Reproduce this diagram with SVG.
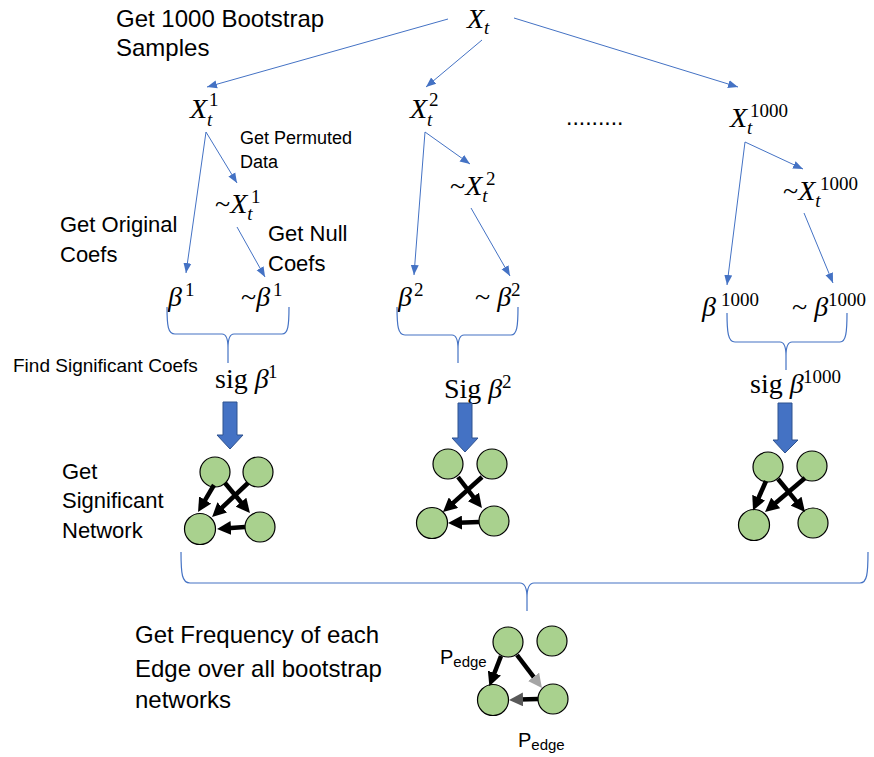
<svg xmlns="http://www.w3.org/2000/svg" width="874" height="757" viewBox="0 0 874 757">
<style>
.lbl{font-family:"Liberation Sans",Arial,sans-serif;fill:#000}
.m{font-family:"Liberation Serif","Times New Roman",serif;fill:#000;font-size:28px}
.i{font-style:italic}
.sb{font-style:italic;font-size:19px}
.sp{font-size:19px}
.con{stroke:#4472C4;stroke-width:1;fill:none}
.br{stroke:#4472C4;stroke-width:1.2;fill:none}
.blk{fill:#4472C4;stroke:#2F528F;stroke-width:1}
.nd{fill:#A9D18E;stroke:#000;stroke-width:1.2}
.e{stroke:#000;stroke-width:4.5;fill:none}
</style>
<defs>
<marker id="bh" markerUnits="userSpaceOnUse" markerWidth="10" markerHeight="10" viewBox="0 0 10 10" refX="10" refY="5" orient="auto"><path d="M0,1 L10,5 L0,9 Z" fill="#4472C4"/></marker>
<marker id="ah" markerUnits="userSpaceOnUse" markerWidth="14" markerHeight="14" viewBox="0 0 10 10" refX="2.6" refY="5" orient="auto"><path d="M0,0 L10,5 L0,10 Z" fill="#000"/></marker>
<marker id="ag" markerUnits="userSpaceOnUse" markerWidth="14" markerHeight="14" viewBox="0 0 10 10" refX="2.6" refY="5" orient="auto"><path d="M0,0 L10,5 L0,10 Z" fill="#A5A5A5"/></marker>
<marker id="ad" markerUnits="userSpaceOnUse" markerWidth="14" markerHeight="14" viewBox="0 0 10 10" refX="2.6" refY="5" orient="auto"><path d="M0,0 L10,5 L0,10 Z" fill="#595959"/></marker>
</defs>

<g id="labels">
<text class="lbl" x="116" y="27" font-size="24">Get 1000 Bootstrap</text>
<text class="lbl" x="116" y="56" font-size="24">Samples</text>
<text class="lbl" x="240" y="144" font-size="18">Get Permuted</text>
<text class="lbl" x="240" y="168" font-size="18">Data</text>
<text class="lbl" x="60" y="232" font-size="22">Get Original</text>
<text class="lbl" x="60" y="262" font-size="22">Coefs</text>
<text class="lbl" x="268" y="241" font-size="22">Get Null</text>
<text class="lbl" x="268" y="271" font-size="22">Coefs</text>
<text class="lbl" x="13" y="372" font-size="19">Find Significant Coefs</text>
<text class="lbl" x="62" y="479" font-size="22">Get</text>
<text class="lbl" x="62" y="508" font-size="22">Significant</text>
<text class="lbl" x="62" y="538" font-size="22">Network</text>
<text class="lbl" x="135" y="643" font-size="24">Get Frequency of each</text>
<text class="lbl" x="135" y="677" font-size="24">Edge over all bootstrap</text>
<text class="lbl" x="135" y="708" font-size="24">networks</text>
<text class="lbl" x="566" y="125" font-size="23">.........</text>
</g>

<g id="Xt"><text class="m" x="467" y="28"><tspan class="i">X</tspan><tspan class="sb" dy="6">t</tspan></text></g>
<g id="Xt1"><text class="m" x="190" y="118"><tspan class="i">X</tspan><tspan class="sb" dy="8">t</tspan><tspan class="sp" x="209" dy="-20">1</tspan></text></g>
<g id="Xt2"><text class="m" x="410" y="118"><tspan class="i">X</tspan><tspan class="sb" dy="8">t</tspan><tspan class="sp" x="429" dy="-20">2</tspan></text></g>
<g id="Xt1000"><text class="m" x="730" y="127"><tspan class="i">X</tspan><tspan class="sb" dy="7">t</tspan><tspan class="sp" x="750" dy="-17" font-size="20">1000</tspan></text></g>
<g id="pXt1"><text class="m" x="215" y="213">~<tspan class="i">X</tspan><tspan class="sb" dy="7">t</tspan><tspan class="sp" x="251" dy="-17">1</tspan></text></g>
<g id="pXt2"><text class="m" x="450" y="195">~<tspan class="i">X</tspan><tspan class="sb" dy="7">t</tspan><tspan class="sp" x="486" dy="-17">2</tspan></text></g>
<g id="pXt1000"><text class="m" x="783" y="200">~<tspan class="i">X</tspan><tspan class="sb" dy="7">t</tspan><tspan class="sp" x="820" dy="-17" font-size="20">1000</tspan></text></g>

<g id="b1"><text class="m" x="168" y="306"><tspan class="i">β</tspan><tspan class="sp" x="185" dy="-10">1</tspan></text></g>
<g id="pb1"><text class="m" x="241" y="306">~<tspan class="i">β</tspan><tspan class="sp" x="273" dy="-10">1</tspan></text></g>
<g id="b2"><text class="m" x="398" y="306"><tspan class="i">β</tspan><tspan class="sp" x="414" dy="-10">2</tspan></text></g>
<g id="pb2"><text class="m" x="475" y="306">~ <tspan class="i">β</tspan><tspan class="sp" x="511" dy="-10">2</tspan></text></g>
<g id="b1000"><text class="m" x="702" y="316"><tspan class="i">β</tspan><tspan class="sp" x="721" dy="-10" font-size="20">1000</tspan></text></g>
<g id="pb1000"><text class="m" x="792" y="316">~ <tspan class="i">β</tspan><tspan class="sp" x="828" dy="-10" font-size="20">1000</tspan></text></g>
<g id="sig1"><text class="m" x="215" y="388">sig <tspan class="i">β</tspan><tspan class="sp" x="268" dy="-10">1</tspan></text></g>
<g id="sig2"><text class="m" x="444" y="398">Sig <tspan class="i">β</tspan><tspan class="sp" x="502" dy="-10">2</tspan></text></g>
<g id="sig1000"><text class="m" x="750" y="393">sig <tspan class="i">β</tspan><tspan class="sp" x="803" dy="-10" font-size="20">1000</tspan></text></g>

<g id="connectors">
<line class="con" x1="448" y1="19" x2="207" y2="87" marker-end="url(#bh)"/>
<line class="con" x1="482" y1="40" x2="426" y2="87" marker-end="url(#bh)"/>
<line class="con" x1="514" y1="18" x2="738" y2="87" marker-end="url(#bh)"/>
<line class="con" x1="206" y1="132" x2="186" y2="273" marker-end="url(#bh)"/>
<line class="con" x1="206" y1="132" x2="237" y2="183" marker-end="url(#bh)"/>
<line class="con" x1="237" y1="227" x2="265" y2="277" marker-end="url(#bh)"/>
<line class="con" x1="425" y1="132" x2="414" y2="275" marker-end="url(#bh)"/>
<line class="con" x1="425" y1="132" x2="470" y2="164" marker-end="url(#bh)"/>
<line class="con" x1="471" y1="208" x2="510" y2="276" marker-end="url(#bh)"/>
<line class="con" x1="745" y1="142" x2="727" y2="285" marker-end="url(#bh)"/>
<line class="con" x1="745" y1="142" x2="803" y2="169" marker-end="url(#bh)"/>
<line class="con" x1="804" y1="213" x2="833" y2="283" marker-end="url(#bh)"/>
<path class="br" d="M167,307 C167,326 168,334 175,334 L222,334 C226,334 228,338 228,348 L228,363 M228,348 C228,338 230,334 234,334 L282,334 C288,334 289,326 289,307"/>
<path class="br" d="M397,307 C397,326 398,335 405,335 L452,335 C456,335 458,339 458,349 L458,363 M458,349 C458,339 460,335 464,335 L511,335 C517,335 518,326 518,307"/>
<path class="br" d="M727,313 C727,332 728,342 735,342 L780,342 C784,342 786,346 786,356 L786,370 M786,356 C786,346 788,342 792,342 L840,342 C846,342 847,332 847,313"/>
<path class="br" d="M181,552 C181,574 182,583 190,583 L520,583 C525,583 527,588 527,598 L527,611 M527,598 C527,588 529,583 534,583 L860,583 C867,583 868,574 868,552"/>
<path class="blk" d="M223,402 L237,402 L237,435 L243,435 L230,449 L217,435 L223,435 Z"/>
<path class="blk" d="M458,403 L472,403 L472,438 L478,438 L465,452 L452,438 L458,438 Z"/>
<path class="blk" d="M778,403 L792,403 L792,440 L798,440 L785,453 L773,440 L778,440 Z"/>
</g>

<g id="net1">
<circle class="nd" cx="215" cy="472" r="15"/>
<circle class="nd" cx="258" cy="472" r="15"/>
<circle class="nd" cx="200" cy="529" r="15.5"/>
<circle class="nd" cx="260" cy="527" r="15"/>
<line class="e" x1="214" y1="485" x2="203.3" y2="503.1" marker-end="url(#ah)"/>
<line class="e" x1="248" y1="483" x2="219.6" y2="509.9" marker-end="url(#ah)"/>
<line class="e" x1="225" y1="483" x2="243.3" y2="505" marker-end="url(#ah)"/>
<line class="e" x1="245" y1="527" x2="227.4" y2="528.3" marker-end="url(#ah)"/>
</g>
<g id="net2">
<circle class="nd" cx="448" cy="464" r="15"/>
<circle class="nd" cx="492" cy="464" r="15"/>
<circle class="nd" cx="432" cy="523" r="15.5"/>
<circle class="nd" cx="494" cy="521" r="15"/>
<line class="e" x1="458" y1="477" x2="475.6" y2="499.8" marker-end="url(#ah)"/>
<line class="e" x1="482" y1="477" x2="450.7" y2="505.1" marker-end="url(#ah)"/>
<line class="e" x1="479" y1="522" x2="458.4" y2="522.7" marker-end="url(#ah)"/>
</g>
<g id="net3">
<circle class="nd" cx="768" cy="467" r="15"/>
<circle class="nd" cx="812" cy="466" r="15"/>
<circle class="nd" cx="754" cy="525" r="15.5"/>
<circle class="nd" cx="813" cy="523" r="15"/>
<line class="e" x1="766" y1="481" x2="757.2" y2="501" marker-end="url(#ah)"/>
<line class="e" x1="805" y1="478" x2="772.9" y2="505.3" marker-end="url(#ah)"/>
<line class="e" x1="778" y1="479" x2="798.4" y2="503.9" marker-end="url(#ah)"/>
</g>
<g id="netFinal">
<circle class="nd" cx="508" cy="642" r="15"/>
<circle class="nd" cx="552" cy="641" r="15"/>
<circle class="nd" cx="493" cy="700" r="15.5"/>
<circle class="nd" cx="553" cy="699" r="15"/>
<line class="e" x1="501" y1="656" x2="493.1" y2="676.5" marker-end="url(#ah)"/>
<line class="e" x1="517" y1="655" x2="535.7" y2="679.7" stroke="#A5A5A5" marker-end="url(#ag)"/>
<line class="e" x1="538" y1="699" x2="519.4" y2="699.6" stroke="#595959" marker-end="url(#ad)"/>
<text class="lbl" x="440" y="664" font-size="20">P<tspan font-size="15" dy="3">edge</tspan></text>
<text class="lbl" x="518" y="747" font-size="20">P<tspan font-size="15" dy="3">edge</tspan></text>
</g>
</svg>
